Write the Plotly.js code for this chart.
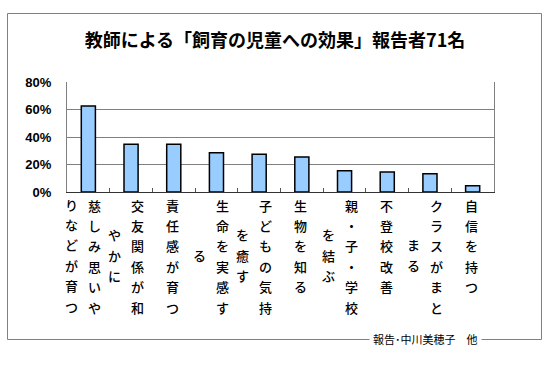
<!DOCTYPE html>
<html>
<head>
<meta charset="utf-8">
<script src="https://cdn.plot.ly/plotly-3.0.1.min.js"></script>
<style>html,body{margin:0;padding:0;background:#fff;}#chart{width:550px;height:366px;}</style>
</head>
<body>
<div id="chart"></div>
<script>
// Data
var categories = ["慈しみ思いやりなどが育つ","交友関係が和やかに","責任感が育つ","生命を実感する","子どもの気持を癒す","生物を知る","親・子・学校を結ぶ","不登校改善","クラスがまとまる","自信を持つ"];
var values = [62.5, 34.8, 34.8, 28.5, 27.5, 25.5, 15.5, 14.5, 13.3, 4.5];
var labelMain = ["慈しみ思いや","交友関係が和","責任感が育つ","生命を実感す","子どもの気持","生物を知る","親・子・学校","不登校改善","クラスがまと","自信を持つ"];
var labelWrap = ["りなどが育つ","やかに","","る","を癒す","","を結ぶ","","まる",""];
var yTicks = [0, 20, 40, 60, 80];
var yTickText = ["0%", "20%", "40%", "60%", "80%"];
var titleText = "教師による「飼育の児童への効果」報告者71名";
var footerText = "報告･中川美穂子　他";

// Layout geometry (pixels)
var W = 550, H = 366;
var plotL = 67, plotR = 494, plotT = 82, plotB = 192;
var pw = plotR - plotL, ph = plotB - plotT;
function px2x(p){ return (p - plotL) / pw; }
function py2y(p){ return (plotB - p) / ph; }

var annotations = [];
var labelFont = {family: "Noto Sans CJK JP", size: 13, color: "#000", weight: 500};
var rowStep = 20.4;
categories.forEach(function(cat, i){
  var main = Array.from(labelMain[i]);
  var wrap = Array.from(labelWrap[i]);
  var mainShift = wrap.length ? 6.5 : -1;
  main.forEach(function(ch, k){
    annotations.push({xref:"x", yref:"paper", x:cat, xshift:mainShift, y:py2y(205 + rowStep*k),
      text:ch, showarrow:false, xanchor:"center", yanchor:"middle", font:labelFont});
  });
  wrap.forEach(function(ch, k){
    annotations.push({xref:"x", yref:"paper", x:cat, xshift:-16.5, y:py2y(255 + (k - (wrap.length-1)/2)*rowStep),
      text:ch, showarrow:false, xanchor:"center", yanchor:"middle", font:labelFont});
  });
});
annotations.push({xref:"paper", yref:"paper", x:px2x(425), y:py2y(339), text:footerText, showarrow:false,
  xanchor:"center", yanchor:"middle", bgcolor:"#ffffff", borderpad:3,
  font:{family:"Noto Sans CJK JP", size:11, color:"#000"}});

var shapes = [
  {type:"rect", xref:"paper", yref:"paper", x0:px2x(7.5), x1:px2x(541.5), y0:py2y(339.5), y1:py2y(13.5),
   line:{color:"#808080", width:1}, fillcolor:"rgba(0,0,0,0)", layer:"below"}
];

var trace = {
  type:"bar", x:categories, y:values,
  marker:{color:"#99CCFF", line:{color:"#000000", width:1.5}},
  hoverinfo:"none"
};

var layout = {
  width:W, height:H,
  margin:{l:plotL, r:W-plotR, t:plotT, b:H-plotB, pad:0},
  paper_bgcolor:"#ffffff", plot_bgcolor:"#ffffff",
  showlegend:false,
  bargap:0.67,
  title:{text:titleText, xref:"container", yref:"container", x:0.5, y:1-41/H, xanchor:"center", yanchor:"middle",
    font:{family:"Noto Sans CJK JP", size:18, color:"#000", weight:"bold"}},
  xaxis:{type:"category", range:[-0.5, 9.5], showticklabels:false, tickson:"boundaries",
    ticks:"inside", ticklen:4, tickcolor:"#555", tickwidth:1,
    showline:true, linecolor:"#333", linewidth:1, showgrid:false, zeroline:false, fixedrange:true},
  yaxis:{range:[0,80], tickmode:"array", tickvals:yTicks, ticktext:yTickText, showgrid:true, gridcolor:"#808080", gridwidth:1,
    showline:true, linecolor:"#808080", mirror:true, zeroline:false,
    ticks:"outside", ticklen:12, tickcolor:"rgba(0,0,0,0)",
    tickfont:{family:"Liberation Sans", size:13, color:"#000", weight:"bold"}, fixedrange:true},
  annotations:annotations,
  shapes:shapes
};

Plotly.newPlot("chart", [trace], layout, {staticPlot:true, displayModeBar:false});
</script>
</body>
</html>
